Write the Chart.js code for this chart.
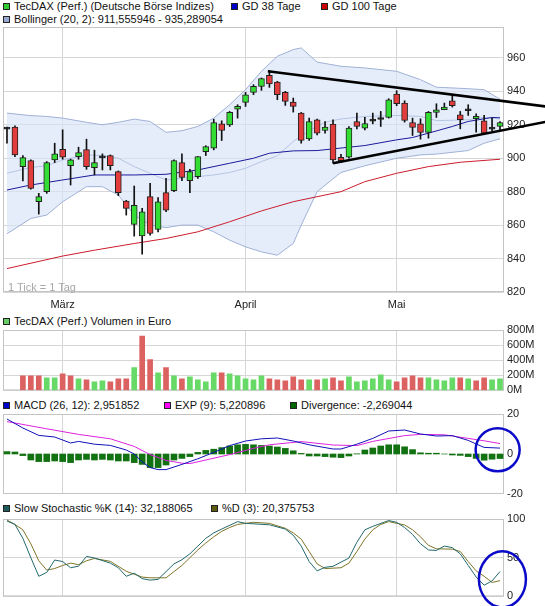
<!DOCTYPE html>
<html>
<head>
<meta charset="utf-8">
<script src="https://cdn.jsdelivr.net/npm/chart.js@4.4.1/dist/chart.umd.min.js"></script>
<style>
  body { margin: 0; background: #fff; }
  #wrap { position: relative; width: 545px; height: 606px; overflow: hidden; background: #fff;
          font: 11px "Liberation Sans", Arial, sans-serif; color: #111; }
  canvas { position: absolute; left: 0; }
  .lg { position: absolute; white-space: nowrap; line-height: 13px; }
  .lg i { display: inline-block; width: 5px; height: 5px; border: 1px solid #222; margin-right: 4px; vertical-align: 0; }
  .note { position: absolute; left: 8px; top: 281px; color: #a8a8a8; }
</style>
</head>
<body>
<div id="wrap">
  <div class="lg" style="left:3px;top:0px"><i style="background:#33cc33"></i>TecDAX (Perf.) (Deutsche Börse Indizes)</div>
  <div class="lg" style="left:231px;top:0px"><i style="background:#0000cc"></i>GD 38 Tage</div>
  <div class="lg" style="left:321px;top:0px"><i style="background:#cc0000"></i>GD 100 Tage</div>
  <div class="lg" style="left:3px;top:13px"><i style="background:#98a9d2"></i>Bollinger (20, 2): 911,555946 - 935,289054</div>
  <div class="lg" style="left:3px;top:315px"><i style="background:#66cc66"></i>TecDAX (Perf.) Volumen in Euro</div>
  <div class="lg" style="left:3px;top:399px"><i style="background:#0000cc"></i>MACD (26, 12): 2,951852</div>
  <div class="lg" style="left:164px;top:399px"><i style="background:#ff00ff"></i>EXP (9): 5,220896</div>
  <div class="lg" style="left:290px;top:399px"><i style="background:#006600"></i>Divergence: -2,269044</div>
  <div class="lg" style="left:3px;top:502px"><i style="background:#1c5c5c"></i>Slow Stochastic %K (14): 32,188065</div>
  <div class="lg" style="left:211px;top:502px"><i style="background:#5c5c0c"></i>%D (3): 20,375753</div>
  <canvas id="cMain" width="545" height="312" style="top:0px"></canvas>
  <canvas id="cVol" width="545" height="88" style="top:312px"></canvas>
  <canvas id="cMacd" width="545" height="105" style="top:400px"></canvas>
  <canvas id="cStoch" width="545" height="101" style="top:505px"></canvas>
  <div class="note">1 Tick = 1 Tag</div>
</div>
<script>
// x positions are trading-day indices 0..62
const monthTicks = [7, 30, 49];
const monthLabels = ["März", "April", "Mai"];

const openP = [917.6, 918.6, 895, 898.6, 874, 880, 899, 905.4, 895.6, 901,
  905.2, 894.4, 900.4, 901.6, 892, 874.4, 860.4, 853.6, 877, 857.4,
  879.4, 880.6, 897.4, 886.6, 889, 904, 906, 920.6, 920, 929.4,
  933.4, 939.4, 943, 949.6, 945.6, 939.4, 933.6, 927, 911.6, 923,
  916.6, 920.4, 900.6, 900.6, 922, 918, 922.2, 923.2, 924.4, 938.4,
  933, 921.4, 920.6, 915.4, 927.4, 929, 934.4, 926, 928.4, 923.6,
  922.4, 917.4, 919];
const highP = [918.6, 919.4, 901.6, 899, 879, 898, 909, 917, 899.5, 906.6,
  911.4, 904.8, 902.6, 902, 892.4, 874.8, 883.4, 870, 885, 876.4,
  888, 899, 902.6, 893.4, 901, 907.5, 923.4, 922.4, 928, 932,
  939.4, 944, 948, 952.4, 946, 940, 936, 927.4, 924, 923.5,
  922, 923, 902.4, 919, 927, 924.4, 927, 928, 935.6, 940.4,
  934.4, 924, 923.6, 928, 932.6, 933, 937.6, 928, 932, 926.6,
  925.6, 924, 922];
const lowP = [909, 901, 886.4, 881.5, 866.6, 879, 897.4, 899.4, 884, 899.4,
  893.4, 890, 893, 893, 877.6, 866, 853.4, 842.6, 854, 856,
  868, 880, 886.6, 879.4, 888, 901.6, 905, 910.6, 919, 924,
  931, 938, 940.6, 942.4, 935, 931.6, 927.6, 909, 910.6, 914,
  915, 897, 897.4, 900, 917.6, 917, 920.6, 919, 924, 931.4,
  921.6, 913.6, 911.4, 912, 924.4, 929, 930.6, 917.6, 925.6, 915.6,
  914.6, 916.4, 917];
const closeP = [917.4, 902, 900.4, 882, 877, 897.4, 902.6, 900.6, 899, 903.4,
  895, 897.4, 900.2, 895.6, 879.4, 870, 871.8, 868, 855, 874,
  869, 898.6, 888.6, 892, 901, 907, 921.4, 916.6, 927.4, 931,
  938, 943, 947.6, 944.4, 938, 934, 931, 910.6, 922, 915,
  918.6, 899, 898.6, 918, 919, 920.8, 922.4, 923.4, 935, 932.6,
  922.6, 918.4, 915.4, 927.4, 929, 930.6, 931.4, 923, 928.6, 925,
  915, 917.6, 921.4];

// [day index, value]
const bollUpper = [[0, 927], [3, 925.5], [5, 925], [7, 924], [10, 921.5], [12, 920], [14, 921.5],
  [16, 923.4], [18, 922], [20, 915.5], [22, 916.5], [24, 919], [26, 924], [28, 932], [30, 941],
  [32, 952], [34, 961], [36, 965], [37, 966], [39, 957.5], [42, 955], [45, 954], [49, 952],
  [52, 947], [54, 942.5], [58, 941.6], [60, 941], [62, 935.3]];
const bollLower = [[0, 854.8], [3, 864], [5, 866], [7, 874], [10, 883], [12, 883], [14, 878],
  [16, 866], [18, 860], [20, 858.5], [22, 860], [24, 860], [26, 856], [28, 851], [30, 847],
  [32, 844], [34, 842], [36, 849], [37, 860], [39, 880], [42, 891.5], [45, 895.5], [49, 900],
  [52, 902], [54, 902.5], [58, 904.6], [60, 909], [62, 911.6]];
const bollMid = [[0, 891], [3, 894.5], [5, 895.5], [7, 899], [10, 902], [12, 901.5], [14, 900],
  [16, 895], [18, 891], [20, 887], [22, 888], [24, 889], [26, 890], [28, 891.5], [30, 894],
  [32, 898], [34, 901.5], [36, 910], [38, 916.5], [40, 921.5], [42, 923.5], [45, 925],
  [49, 925.6], [52, 925], [54, 922.5], [58, 923], [60, 924.5], [62, 923.4]];
const gd38 = [[0, 881], [3, 884], [7, 887], [11, 890], [16, 890], [20, 890.4], [24, 893],
  [28, 897], [31, 900], [33, 903], [36, 904.4], [39, 904.6], [41, 905.6], [45, 907.6],
  [49, 911], [51, 912.4], [53, 915], [56, 919], [58, 922], [61, 924.4], [62, 924.2]];
const gd100 = [[0, 834], [7, 841.5], [11, 845], [16, 849], [20, 852], [24, 856], [28, 862],
  [32, 868.5], [36, 874], [40, 878], [42, 880], [45, 886], [49, 891], [53, 895],
  [57, 897.6], [62, 899.4]];
const trendHigh = [[32.8, 952], [67.7, 931]];
const trendLow = [[41, 897], [67.7, 921.7]];

const volumeM = [null, null, 193, 193, 193, 166, 166, 220, 193, 153,
  139, 112, 126, 112, 153, 153, 301, 719, 409, 234,
  301, 193, 153, 180, 139, 112, 234, 234, 220, 193,
  153, 139, 193, 153, 139, 126, 180, 139, 139, 139,
  153, 166, 126, 180, 112, 126, 153, 207, 139, 112,
  166, 193, 166, 166, 139, 126, 166, 166, 153, 126,
  166, 139, 153];

const macdLine = [[0, 17.5], [2, 13], [4, 9.3], [6, 8.5], [8, 5.5], [9, 6.3], [11, 4.9],
  [13, 4.3], [15, 2], [16, 0], [17, -4], [18, -6.8], [19, -7.8], [20, -7.8], [22, -5.2],
  [24, -2.4], [26, 0.8], [28, 4.2], [30, 6.5], [32, 7.6], [34, 8], [36, 6.5], [38, 4.6],
  [40, 3.2], [41, 2.5], [42, 2.5], [44, 4.9], [46, 7.8], [48, 11.5], [50, 12], [52, 10],
  [54, 9], [56, 9.2], [58, 6.8], [59, 5], [60, 3.3], [62, 2.95]];
const macdSignal = [[0, 16.2], [1, 15.5], [5, 12.6], [9, 9.8], [13, 7.6], [16, 3.8], [18, -0.3],
  [20, -3.2], [22, -4.6], [23, -4.8], [25, -3], [28, -0.3], [31, 2.8], [33, 4.6], [37, 6.2],
  [41, 4.5], [44, 4.2], [46, 6.3], [50, 9.2], [52, 9.8], [55, 9.6], [58, 7.8], [60, 6.6],
  [62, 5.22]];
const macdDiv = [1.2, 1.0, -0.8, -3, -3.8, -3.8, -3.5, -3.8, -4.3, -3,
  -2.7, -3, -2.7, -3, -3.5, -3.5, -4.3, -5.2, -6.8, -6.8,
  -5.5, -3, -2.2, -1.3, 0.8, 1.8, 2.4, 3.2, 4, 4.6,
  4.8, 4.6, 4.3, 4, 3.5, 2.8, 1.6, 0.3, -1, -1,
  -1.3, -1.6, -1.8, -1, 0.1, 2, 3, 4, 4.6, 4.6,
  3.6, 2.2, 0.6, 0.4, 0.4, 0, -0.5, -0.7, -1.3, -2.2,
  -3.1, -2.6, -2.27];

const stochK = [[0, 97.4], [1, 93], [2, 75], [3, 50], [4, 26], [5, 31], [6, 47], [7, 45],
  [8, 37], [9, 39], [10, 51.7], [11, 49.6], [13, 43], [14, 37], [15, 26], [16, 30], [17, 23],
  [18, 21], [19, 22], [20, 32], [21, 42], [22, 47.4], [23, 55], [24, 65], [25, 75], [26, 82],
  [27, 87], [29, 96.6], [30, 94.4], [33, 92.5], [35, 87], [36, 79], [37, 65], [38, 45],
  [39, 33], [40, 37.6], [41, 38.9], [43, 49.6], [44, 70], [45, 86], [46, 90.5], [48, 98],
  [49, 95.7], [50, 89], [51, 80], [52, 68], [53, 60], [54, 59.4], [55, 65], [56, 63],
  [57, 55], [58, 40], [59, 25], [60, 14.5], [61, 20], [62, 32.2]];
const stochD = [[0, 98.7], [1, 93], [2, 86], [3, 68], [4, 46], [5, 34], [6, 36], [7, 40],
  [8, 43], [9, 41], [10, 46], [11, 49], [13, 45.3], [15, 32.5], [17, 25], [18, 24], [20, 24],
  [21, 32], [22, 40], [23, 50], [24, 60], [25, 69], [26, 77], [27, 84], [28, 89], [29, 93],
  [31, 95.7], [33, 94.4], [35, 88], [36, 82], [37, 74], [38, 58], [39, 42], [40, 36],
  [42, 37], [43, 43], [44, 58], [45, 74], [46, 86], [47, 93], [48, 96.6], [50, 92.3],
  [51, 86], [52, 77], [53, 66], [54, 61.5], [56, 61], [57, 58], [58, 45], [59, 33],
  [60, 26], [61, 18], [62, 20.4]];

const priceTicks = [820, 840, 860, 880, 900, 920, 940, 960];
const volTicks = [0, 200, 400, 600, 800];
const macdTicks = [-20, 0, 20];
const stochTicks = [0, 50, 100];

// ---- helpers ----
Chart.defaults.font.family = '"Liberation Sans", Arial, sans-serif';
Chart.defaults.font.size = 11;
Chart.defaults.color = "#222";

const gridColor = "#d6d6d6";
const upColor = "#33dd33";
const downColor = "#e23c3c";
const days = closeP.map((_, i) => i);
const pts = (arr) => arr.map(([x, y]) => ({ x, y }));

function xAxis(showLabels) {
  return {
    type: "linear", min: -0.5, max: 62.5, offset: false,
    afterBuildTicks: (s) => { s.ticks = monthTicks.map((v) => ({ value: v })); },
    afterFit: (s) => { s.height = showLabels ? 20 : 0; },
    grid: { color: gridColor, drawTicks: false, offset: false },
    border: { display: false },
    ticks: {
      display: showLabels, padding: 6, maxRotation: 0, autoSkip: false,
      callback: (v) => monthLabels[monthTicks.indexOf(v)],
    },
  };
}

function yAxis(min, max, tickVals, fmt, showGrid) {
  return {
    type: "linear", position: "right", min, max,
    afterBuildTicks: (s) => { s.ticks = tickVals.map((v) => ({ value: v })); },
    afterFit: (s) => { s.width = 41; },
    grid: { display: showGrid, color: gridColor, drawTicks: false },
    border: { display: false },
    ticks: { padding: 3, autoSkip: false, callback: fmt },
  };
}

// frame round the plot, extra lines and circles
const overlay = {
  id: "overlay",
  beforeDatasetsDraw(chart) {
    const { ctx, chartArea: a } = chart;
    ctx.save();
    ctx.strokeStyle = "#c4c4c4";
    ctx.lineWidth = 1;
    ctx.strokeRect(a.left + 0.5, a.top + 0.5, a.width - 1, a.height - 1);
    ctx.restore();
  },
  afterDraw(chart, args, opts) {
    const { ctx, scales } = chart;
    ctx.save();
    (opts.lines || []).forEach((ln) => {
      ctx.strokeStyle = "#000";
      ctx.lineWidth = 2.5;
      ctx.beginPath();
      ctx.moveTo(scales.x.getPixelForValue(ln[0][0]), scales.y.getPixelForValue(ln[0][1]));
      ctx.lineTo(scales.x.getPixelForValue(ln[1][0]), scales.y.getPixelForValue(ln[1][1]));
      ctx.stroke();
    });
    if (opts.ring) {
      const r = opts.ring;
      ctx.strokeStyle = "#0a0ac8";
      ctx.lineWidth = 2.5;
      ctx.beginPath();
      ctx.ellipse(scales.x.getPixelForValue(r.x), scales.y.getPixelForValue(r.y), r.rx, r.ry, 0, 0, Math.PI * 2);
      ctx.stroke();
    }
    ctx.restore();
  },
};

const baseOpts = (padTop, padBottom) => ({
  responsive: false,
  animation: false,
  devicePixelRatio: 1,
  layout: { padding: { left: 3, right: 0, top: padTop, bottom: padBottom } },
  plugins: { legend: { display: false }, tooltip: { enabled: false } },
});

// ---- price panel ----
const mainOpts = baseOpts(27, 0);
mainOpts.scales = {
  x: xAxis(true),
  y: yAxis(820, 978.5, priceTicks, (v) => v, true),
};
mainOpts.plugins.overlay = { lines: [trendHigh, trendLow] };

new Chart(document.getElementById("cMain"), {
  type: "bar",
  data: {
    datasets: [
      { type: "line", data: pts(bollUpper), borderColor: "#9fb1d6", borderWidth: 1, pointRadius: 0, fill: false, order: 10 },
      { type: "line", data: pts(bollLower), borderColor: "#9fb1d6", borderWidth: 1, pointRadius: 0,
        fill: "-1", backgroundColor: "rgba(216, 228, 247, 0.65)", order: 10 },
      { type: "line", data: pts(bollMid), borderColor: "#b4c4e4", borderWidth: 1, pointRadius: 0, order: 9 },
      { type: "line", data: pts(gd100), borderColor: "#cc1c2c", borderWidth: 1, pointRadius: 0, order: 8 },
      { type: "line", data: pts(gd38), borderColor: "#1a1a9a", borderWidth: 1, pointRadius: 0, order: 7 },
      { data: days.map((i) => ({ x: i, y: [lowP[i], highP[i]] })),
        backgroundColor: "#111", barThickness: 1, grouped: false, order: 2 },
      { data: days.map((i) => ({ x: i, y: [openP[i], closeP[i]] })),
        backgroundColor: days.map((i) => Math.abs(closeP[i] - openP[i]) < 0.5 ? "#111"
          : closeP[i] > openP[i] ? upColor : downColor),
        borderColor: "#222", borderWidth: 1, borderSkipped: false, minBarLength: 2,
        barThickness: 6, grouped: false, order: 1 },
    ],
  },
  options: mainOpts,
  plugins: [overlay],
});

// ---- volume panel ----
const volOpts = baseOpts(18, 8);
volOpts.scales = {
  x: xAxis(false),
  y: yAxis(0, 800, volTicks, (v) => v + "M", true),
};
new Chart(document.getElementById("cVol"), {
  type: "bar",
  data: {
    datasets: [{
      data: days.filter((i) => volumeM[i] !== null).map((i) => ({ x: i, y: volumeM[i] })),
      backgroundColor: days.filter((i) => volumeM[i] !== null)
        .map((i) => (closeP[i] >= closeP[i - 1] ? "#66d966" : "#dc6262")),
      barThickness: 5,
    }],
  },
  options: volOpts,
  plugins: [overlay],
});

// ---- MACD panel ----
const macdOpts = baseOpts(14, 11);
macdOpts.scales = {
  x: xAxis(false),
  y: yAxis(-20, 20, macdTicks, (v) => v, false),
};
macdOpts.plugins.overlay = { ring: { x: 61.7, y: 2.1, rx: 22, ry: 21.5 } };
new Chart(document.getElementById("cMacd"), {
  type: "bar",
  data: {
    datasets: [
      { type: "line", data: pts(macdLine), borderColor: "#1010b8", borderWidth: 1, pointRadius: 0, order: 1 },
      { type: "line", data: pts(macdSignal), borderColor: "#dd22dd", borderWidth: 1, pointRadius: 0, order: 2 },
      { data: macdDiv.map((v, i) => ({ x: i, y: v })), backgroundColor: "#127212", barThickness: 6, order: 3 },
    ],
  },
  options: macdOpts,
  plugins: [overlay],
});

// ---- stochastic panel ----
const stochOpts = baseOpts(14, 9);
stochOpts.scales = {
  x: xAxis(false),
  y: yAxis(0, 100, stochTicks, (v) => v, true),
};
stochOpts.plugins.overlay = { ring: { x: 62.3, y: 22, rx: 23.5, ry: 28 } };
new Chart(document.getElementById("cStoch"), {
  type: "line",
  data: {
    datasets: [
      { data: pts(stochK), borderColor: "#22696b", borderWidth: 1, pointRadius: 0, order: 1 },
      { data: pts(stochD), borderColor: "#7f7526", borderWidth: 1, pointRadius: 0, order: 2 },
    ],
  },
  options: stochOpts,
  plugins: [overlay],
});
</script>
</body>
</html>
